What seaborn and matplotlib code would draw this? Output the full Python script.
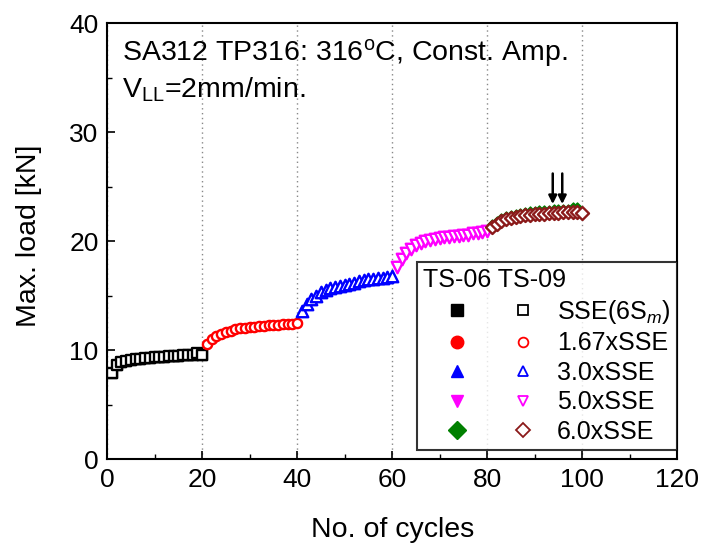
import numpy as np
import pandas as pd
import matplotlib
matplotlib.use("Agg")
import matplotlib.pyplot as plt
from matplotlib.lines import Line2D
from matplotlib.legend_handler import HandlerTuple
import seaborn as sns

# ---------------- data ----------------
levels = ["SSE(6S$_{m}$)", "1.67xSSE", "3.0xSSE", "5.0xSSE", "6.0xSSE"]
level_colors = ["black", "red", "blue", "magenta", "#8B1A1A"]
filled_colors = ["black", "red", "blue", "magenta", "green"]
level_markers = ["s", "o", "^", "v", "D"]

cycles_per_level = [
    list(range(1, 21)), list(range(21, 41)), list(range(41, 61)),
    list(range(61, 81)), list(range(81, 101)),
]

ts09_loads = [
    [7.9, 8.6, 8.9, 9.0, 9.1, 9.2, 9.2, 9.3, 9.3, 9.4, 9.4, 9.4, 9.5, 9.5, 9.5, 9.6, 9.6, 9.6, 9.7, 9.6],
    [10.6, 11.0, 11.3, 11.5, 11.7, 11.8, 11.9, 12.0, 12.0, 12.1, 12.1, 12.2, 12.2, 12.3, 12.3, 12.3, 12.4, 12.4, 12.4, 12.5],
    [13.6, 14.2, 14.7, 15.0, 15.3, 15.5, 15.7, 15.8, 15.9, 16.0, 16.1, 16.2, 16.3, 16.4, 16.5, 16.5, 16.6, 16.6, 16.7, 16.8],
    [17.6, 18.4, 18.9, 19.3, 19.6, 19.8, 20.0, 20.1, 20.2, 20.3, 20.4, 20.4, 20.5, 20.5, 20.6, 20.6, 20.7, 20.7, 20.8, 20.9],
    [21.3, 21.6, 21.8, 22.0, 22.1, 22.2, 22.3, 22.4, 22.4, 22.5, 22.5, 22.5, 22.6, 22.6, 22.6, 22.7, 22.7, 22.7, 22.7, 22.6],
]

ts06_loads = [
    [7.9, 8.6, 8.9, 9.0, 9.1, 9.2, 9.2, 9.3, 9.3, 9.4, 9.4, 9.4, 9.5, 9.5, 9.5, 9.6, 9.6, 9.6, 9.7, 9.6],
    [10.6, 11.0, 11.3, 11.5, 11.7, 11.8, 11.9, 12.0, 12.0, 12.1, 12.1, 12.2, 12.2, 12.3, 12.3, 12.3, 12.4, 12.4, 12.4, 12.5],
    [13.6, 14.2, 14.7, 15.0, 15.3, 15.5, 15.7, 15.8, 15.9, 16.0, 16.1, 16.2, 16.3, 16.4, 16.5, 16.5, 16.6, 16.6, 16.7, 16.8],
    [17.6, 18.4, 18.9, 19.3, 19.6, 19.8, 20.0, 20.1, 20.2, 20.3, 20.4, 20.4, 20.5, 20.5, 20.6, 20.6, 20.7, 20.7, 20.8, 20.9],
    [21.4, 21.7, 21.9, 22.1, 22.2, 22.3, 22.4, 22.5, 22.6, 22.6, 22.7, 22.7, 22.7, 22.8, 22.8, 22.8, 22.8, 22.9, 22.9],
]
ts06_cycles = [
    list(range(1, 21)), list(range(21, 41)), list(range(41, 61)),
    list(range(61, 81)), list(range(81, 100)),
]

arrow_x = [93.8, 95.8]
arrow_tail_y = 26.2
arrow_head_y = 23.4

x_ticks = [0, 20, 40, 60, 80, 100, 120]
y_ticks = [0, 10, 20, 30, 40]

# ---------------- style ----------------
sns.set_theme(style="ticks")
plt.rcParams["font.family"] = ["Liberation Sans", "DejaVu Sans"]
plt.rcParams["mathtext.fontset"] = "custom"
plt.rcParams["mathtext.rm"] = "Liberation Sans"
plt.rcParams["mathtext.it"] = "Liberation Sans:italic"
plt.rcParams["text.color"] = "black"
plt.rcParams["axes.labelcolor"] = "black"
plt.rcParams["xtick.color"] = "black"
plt.rcParams["ytick.color"] = "black"

rows = []
for i, lv in enumerate(levels):
    for c, v in zip(ts06_cycles[i], ts06_loads[i]):
        rows.append(dict(cycle=c, load=v, spec="TS-06", level=lv))
    for c, v in zip(cycles_per_level[i], ts09_loads[i]):
        rows.append(dict(cycle=c, load=v, spec="TS-09", level=lv))
df = pd.DataFrame(rows)

fig = plt.figure(figsize=(7.04, 5.48), dpi=100)
ax = fig.add_axes([0.152, 0.162, 0.810, 0.796])

ax.set_xlim(0, 120)
ax.set_ylim(0, 40)
ax.set_xticks(x_ticks)
ax.set_yticks(y_ticks)
ax.xaxis.grid(True, linestyle=(0, (1, 2.5)), color="#888888", linewidth=1.0)
ax.set_axisbelow(True)

sizes = {"s": 58, "o": 44, "^": 68, "v": 68, "D": 44}
# TS-06 (filled) first
for i, lv in enumerate(levels):
    sub = df[(df.spec == "TS-06") & (df.level == lv)]
    sns.scatterplot(data=sub, x="cycle", y="load", ax=ax, marker=level_markers[i],
                    color=filled_colors[i], edgecolor=filled_colors[i],
                    s=sizes[level_markers[i]], linewidth=1.0, legend=False, zorder=3)
# TS-09 (open, white-filled)
for i, lv in enumerate(levels):
    sub = df[(df.spec == "TS-09") & (df.level == lv)]
    sns.scatterplot(data=sub, x="cycle", y="load", ax=ax, marker=level_markers[i],
                    facecolor="white", edgecolor=level_colors[i],
                    s=sizes[level_markers[i]], linewidth=1.7, legend=False, zorder=4)

for xa in arrow_x:
    ax.annotate("", xy=(xa, arrow_head_y), xytext=(xa, arrow_tail_y),
                arrowprops=dict(arrowstyle="-|>", color="black", lw=1.8,
                                mutation_scale=12, shrinkA=0, shrinkB=0),
                zorder=6)

ax.set_xlabel("No. of cycles", fontsize=20.5)
ax.set_ylabel("Max. load [kN]", fontsize=20.5)
ax.xaxis.set_label_coords(0.5, -0.133)
ax.yaxis.set_label_coords(-0.114, 0.513)
ax.tick_params(axis="both", which="major", direction="in", length=6, width=1.2,
               labelsize=19, top=False, right=False, pad=6)
ax.set_xticks([10, 30, 50, 70, 90, 110], minor=True)
ax.set_yticks([5, 15, 25, 35], minor=True)
ax.tick_params(axis="both", which="minor", direction="in", length=3.5, width=1.0)
for sp in ax.spines.values():
    sp.set_linewidth(1.5)
    sp.set_color("black")
    sp.set_visible(True)

ax.text(0.027, 0.967, "SA312 TP316: 316$^{\\mathrm{o}}$C, Const. Amp.",
        transform=ax.transAxes, fontsize=20.5, va="top", ha="left")
ax.text(0.027, 0.880, "V$_{\\mathrm{LL}}$=2mm/min.",
        transform=ax.transAxes, fontsize=20.5, va="top", ha="left")

# legend
handles = []
for i in range(len(levels)):
    h_f = Line2D([], [], linestyle="none", marker=level_markers[i],
                 color=filled_colors[i], markerfacecolor=filled_colors[i],
                 markeredgecolor=filled_colors[i], markersize=9)
    h_o = Line2D([], [], linestyle="none", marker=level_markers[i],
                 markerfacecolor="white", markeredgecolor=level_colors[i],
                 markeredgewidth=1.3, markersize=7)
    handles.append((h_f, h_o))
leg = ax.legend(handles, levels, handler_map={tuple: HandlerTuple(ndivide=None, pad=0)},
                loc="upper left", bbox_to_anchor=(0.544, 0.452), borderaxespad=0,
                fontsize=18, title="TS-06 TS-09", title_fontsize=18,
                handlelength=5.3, handletextpad=0.05, labelspacing=0.22,
                borderpad=0.25, frameon=True, fancybox=False, alignment="left")
leg.get_frame().set_edgecolor("black")
leg.get_frame().set_linewidth(1.5)
leg.set_zorder(10)

fig.savefig("out.png", dpi=100)
